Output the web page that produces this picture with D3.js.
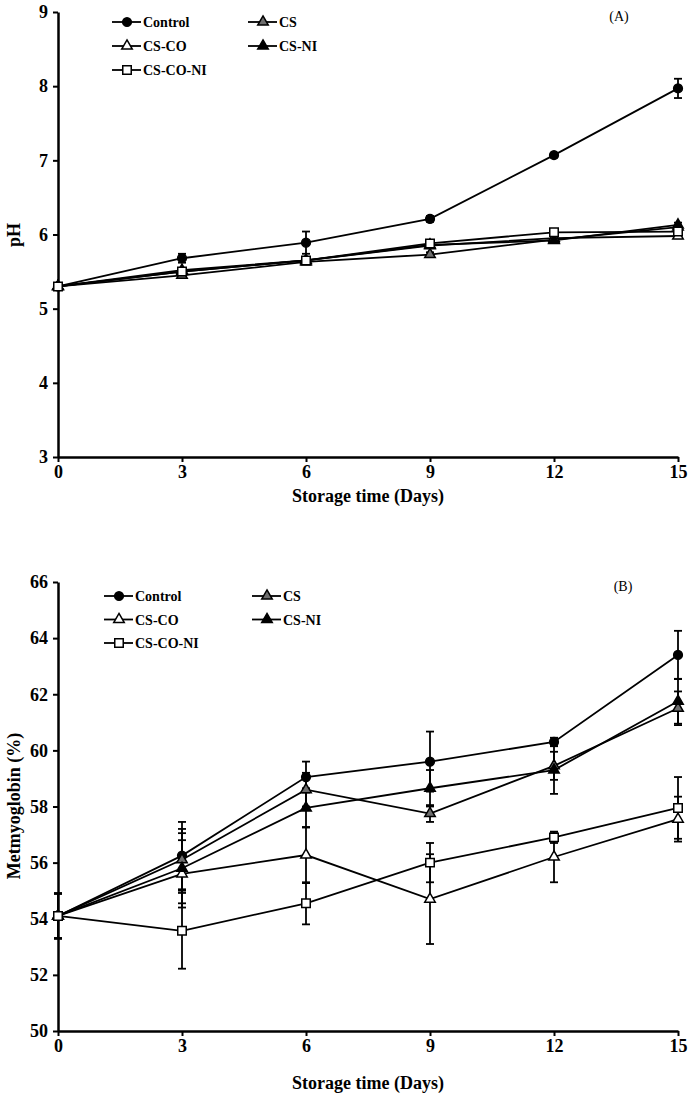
<!DOCTYPE html>
<html>
<head>
<meta charset="utf-8">
<script src="https://cdn.jsdelivr.net/npm/d3@7"></script>
<style>
  body { margin: 0; background: #fff; }
  text { font-family: "Liberation Serif", "Times New Roman", serif; }
  .tick text { font-weight: bold; font-size: 18px; }
  .axis-label { font-weight: bold; font-size: 18px; }
  .legend text { font-weight: bold; font-size: 14px; }
</style>
</head>
<body>
<svg id="chart" width="691" height="1103"></svg>
<script>
// DATA
const days = [0, 3, 6, 9, 12, 15];
const seriesNames = ["Control", "CS", "CS-CO", "CS-NI", "CS-CO-NI"];

// (A) pH
const phControl = [5.30, 5.68, 5.89, 6.21, 7.07, 7.97];
const phCS = [5.30, 5.45, 5.63, 5.73, 5.93, 6.10];
const phCSCO = [5.30, 5.50, 5.65, 5.85, 5.95, 5.98];
const phCSNI = [5.30, 5.52, 5.65, 5.86, 5.92, 6.13];
const phCSCONI = [5.30, 5.50, 5.65, 5.88, 6.03, 6.04];
const phControlErr = [0.03, 0.06, 0.15, 0.04, 0.03, 0.13];
const phCSErr = [0.03, 0.03, 0.03, 0.03, 0.03, 0.03];
const phCSCOErr = [0.03, 0.03, 0.03, 0.03, 0.03, 0.03];
const phCSNIErr = [0.03, 0.03, 0.03, 0.03, 0.03, 0.03];
const phCSCONIErr = [0.03, 0.03, 0.03, 0.03, 0.03, 0.03];
const phTicks = [3, 4, 5, 6, 7, 8, 9];

// (B) Metmyoglobin (%)
const metControl = [54.1, 56.25, 59.05, 59.6, 60.3, 63.4];
const metCS = [54.1, 56.1, 58.6, 57.75, 59.45, 61.5];
const metCSCO = [54.1, 55.6, 56.27, 54.7, 56.2, 57.55];
const metCSNI = [54.1, 55.8, 57.95, 58.65, 59.3, 61.75];
const metCSCONI = [54.1, 53.57, 54.55, 56.0, 56.9, 57.95];
const metControlErr = [0.8, 1.2, 0.55, 1.07, 0.15, 0.86];
const metCSErr = [0.8, 1.1, 0.6, 0.3, 0.5, 0.6];
const metCSCOErr = [0.8, 1.2, 1.0, 1.6, 0.9, 0.8];
const metCSNIErr = [0.8, 1.25, 0.7, 0.65, 0.85, 0.8];
const metCSCONIErr = [0.8, 1.35, 0.75, 0.7, 0.2, 1.1];
const metTicks = [50, 52, 54, 56, 58, 60, 62, 64, 66];

// marker styles per series
const markerStyle = {
  "Control":  { type: d3.symbolCircle,   fill: "#000",  size: 60 },
  "CS":       { type: d3.symbolTriangle, fill: "#6e6e6e", size: 48 },
  "CS-CO":    { type: d3.symbolTriangle, fill: "#fff",  size: 48 },
  "CS-NI":    { type: d3.symbolTriangle, fill: "#000",  size: 48 },
  "CS-CO-NI": { type: d3.symbolSquare,   fill: "#fff",  size: 72 }
};

const svg = d3.select("#chart");
svg.append("rect").attr("width", 691).attr("height", 1103).attr("fill", "#fff");

function drawPanel(cfg) {
  const x = d3.scaleLinear().domain([0, 15]).range([58, 678]);
  const y = d3.scaleLinear().domain(cfg.yDomain).range([cfg.yBottom, cfg.yTop]);
  const g = svg.append("g");

  // axes
  const xAxis = g.append("g")
    .attr("transform", `translate(0,${cfg.yBottom})`)
    .call(d3.axisBottom(x).tickValues(days).tickSize(5).tickPadding(3).tickSizeOuter(0));
  const yAxis = g.append("g")
    .attr("transform", `translate(58,0)`)
    .call(d3.axisLeft(y).tickValues(cfg.ticks).tickFormat(d3.format("d"))
      .tickSize(5).tickPadding(5).tickSizeOuter(0));
  [xAxis, yAxis].forEach(a => {
    a.select(".domain").attr("stroke", "#000").attr("stroke-width", 2.5);
    a.selectAll(".tick line").attr("stroke", "#000").attr("stroke-width", 2);
    a.selectAll(".tick text").attr("fill", "#000");
  });

  const line = d3.line().x((d, i) => x(days[i])).y(d => y(d));

  // error bars
  cfg.series.forEach(s => {
    s.values.forEach((v, i) => {
      const e = s.err[i];
      const cx = x(days[i]);
      g.append("line").attr("x1", cx).attr("x2", cx)
        .attr("y1", y(v - e)).attr("y2", y(v + e))
        .attr("stroke", "#000").attr("stroke-width", 1.8);
      [v - e, v + e].forEach(c => {
        g.append("line").attr("x1", cx - 4).attr("x2", cx + 4)
          .attr("y1", y(c)).attr("y2", y(c))
          .attr("stroke", "#000").attr("stroke-width", 1.8);
      });
    });
  });

  // lines
  cfg.series.forEach(s => {
    g.append("path").datum(s.values).attr("d", line)
      .attr("fill", "none").attr("stroke", "#000").attr("stroke-width", 1.8);
  });

  // markers
  cfg.series.forEach(s => {
    const st = markerStyle[s.name];
    g.selectAll(null).data(s.values).join("path")
      .attr("transform", (d, i) => `translate(${x(days[i])},${y(d)})`)
      .attr("d", d3.symbol().type(st.type).size(st.size))
      .attr("fill", st.fill).attr("stroke", "#000").attr("stroke-width", 1.5);
  });

  // axis labels
  g.append("text").attr("class", "axis-label")
    .attr("x", 368).attr("y", cfg.yBottom + cfg.xLabelGap)
    .attr("text-anchor", "middle").text("Storage time (Days)");
  g.append("text").attr("class", "axis-label")
    .attr("transform", `translate(20,${cfg.yLabelY}) rotate(-90)`)
    .attr("text-anchor", "middle").text(cfg.yLabel);

  // panel tag
  g.append("text").attr("x", cfg.tagX).attr("y", cfg.yTop + 9)
    .attr("text-anchor", "middle").attr("font-size", 14).text(cfg.tag);

  // legend
  const lg = g.append("g").attr("class", "legend");
  const cols = [cfg.legX, cfg.legX + cfg.legGap];
  const pos = [[0, 0], [1, 0], [0, 1], [1, 1], [0, 2]];
  seriesNames.forEach((name, i) => {
    const lx = cols[pos[i][0]];
    const ly = cfg.legY + pos[i][1] * cfg.legRow;
    const st = markerStyle[name];
    lg.append("line").attr("x1", lx - 15).attr("x2", lx + 14)
      .attr("y1", ly).attr("y2", ly).attr("stroke", "#000").attr("stroke-width", 1.8);
    lg.append("path").attr("transform", `translate(${lx},${ly})`)
      .attr("d", d3.symbol().type(st.type).size(st.size))
      .attr("fill", st.fill).attr("stroke", "#000").attr("stroke-width", 1.5);
    lg.append("text").attr("x", lx + 16).attr("y", ly + 5).text(name);
  });
}

drawPanel({
  yDomain: [3, 9], yTop: 12, yBottom: 457, ticks: phTicks, yLabel: "pH",
  yLabelY: 235, xLabelGap: 45,
  tag: "(A)", tagX: 619,
  legX: 127, legGap: 136, legY: 22, legRow: 24,
  series: [
    { name: "Control", values: phControl, err: phControlErr },
    { name: "CS", values: phCS, err: phCSErr },
    { name: "CS-CO", values: phCSCO, err: phCSCOErr },
    { name: "CS-NI", values: phCSNI, err: phCSNIErr },
    { name: "CS-CO-NI", values: phCSCONI, err: phCSCONIErr }
  ]
});

drawPanel({
  yDomain: [50, 66], yTop: 582, yBottom: 1031, ticks: metTicks, yLabel: "Metmyoglobin (%)",
  yLabelY: 806, xLabelGap: 58,
  tag: "(B)", tagX: 623,
  legX: 119, legGap: 148, legY: 596, legRow: 23.5,
  series: [
    { name: "Control", values: metControl, err: metControlErr },
    { name: "CS", values: metCS, err: metCSErr },
    { name: "CS-CO", values: metCSCO, err: metCSCOErr },
    { name: "CS-NI", values: metCSNI, err: metCSNIErr },
    { name: "CS-CO-NI", values: metCSCONI, err: metCSCONIErr }
  ]
});
</script>
</body>
</html>
